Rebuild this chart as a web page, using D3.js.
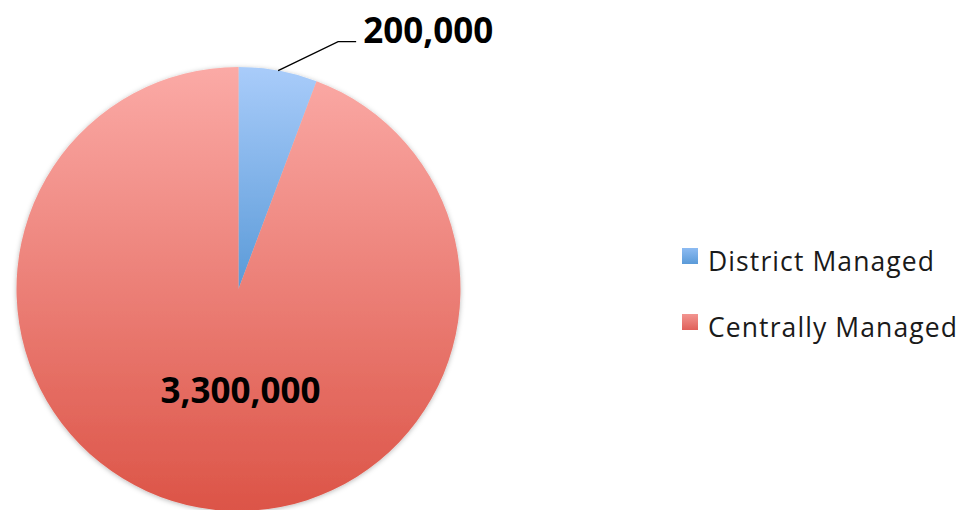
<!DOCTYPE html>
<html><head><meta charset="utf-8">
<script src="https://cdn.jsdelivr.net/npm/d3@7/dist/d3.min.js"></script>
<style>html,body{margin:0;padding:0;background:#fff;overflow:hidden}</style>
</head><body>
<svg id="chart" width="970" height="510"></svg>
<script>
const categories = ["District Managed", "Centrally Managed"];
const values = [200000, 3300000];
const labels = values.map(d3.format(","));

const W = 970, H = 510;
const cx = 238.5, cy = 289, R = 222;
const FONT = "'Open Sans', sans-serif";

const svg = d3.select("#chart");
const defs = svg.append("defs");

// gradient coordinates are local to the translated pie group
const grads = [
  {id: "gBlue", top: "#A9CCFA", bot: "#5A9AD8", y1: -R, y2: 0},
  {id: "gRed", top: "#FBAAA6", bot: "#DC5447", y1: -R, y2: R}
];
grads.forEach(g => {
  const lg = defs.append("linearGradient").attr("id", g.id)
    .attr("gradientUnits", "userSpaceOnUse")
    .attr("x1", 0).attr("x2", 0).attr("y1", g.y1).attr("y2", g.y2);
  lg.append("stop").attr("offset", "0%").attr("stop-color", g.top);
  lg.append("stop").attr("offset", "100%").attr("stop-color", g.bot);
});
const lgBlue = defs.append("linearGradient").attr("id", "lgBlue").attr("x1",0).attr("x2",0).attr("y1",0).attr("y2",1);
lgBlue.append("stop").attr("offset","0%").attr("stop-color","#8DBBF2");
lgBlue.append("stop").attr("offset","100%").attr("stop-color","#5A9AD8");
const lgRed = defs.append("linearGradient").attr("id", "lgRed").attr("x1",0).attr("x2",0).attr("y1",0).attr("y2",1);
lgRed.append("stop").attr("offset","0%").attr("stop-color","#F29590");
lgRed.append("stop").attr("offset","100%").attr("stop-color","#E0605A");

const f = defs.append("filter").attr("id", "shadow")
  .attr("x", "-10%").attr("y", "-10%").attr("width", "120%").attr("height", "120%");
f.append("feDropShadow").attr("dx", 0).attr("dy", 1).attr("stdDeviation", 2.5)
  .attr("flood-color", "#000").attr("flood-opacity", 0.28);

const fills = ["url(#gBlue)", "url(#gRed)"];
const legendFills = ["url(#lgBlue)", "url(#lgRed)"];

const pie = d3.pie().sort(null).value(d => d)(values);
const arc = d3.arc().innerRadius(0).outerRadius(R);

const g = svg.append("g").attr("transform", `translate(${cx},${cy})`);
g.append("g").attr("filter", "url(#shadow)")
  .selectAll("path").data(pie).join("path")
  .attr("d", arc)
  .attr("fill", (d, i) => fills[i]);

// Leader line and label for small slice
const s = pie[0];
const mid = (s.startAngle + s.endAngle) / 2;
const p0 = [R * Math.sin(mid), -R * Math.cos(mid)];
const p1 = [p0[0] + 60, p0[1] - 29];
const p2 = [p1[0] + 18, p1[1]];
g.append("polyline")
  .attr("points", [p0, p1, p2].map(p => p.join(",")).join(" "))
  .attr("fill", "none").attr("stroke", "#000").attr("stroke-width", 1.3);
g.append("text")
  .attr("x", p2[0] + 7).attr("y", p2[1] + 1)
  .attr("font-family", FONT).attr("font-weight", 700).attr("font-size", 35)
  .attr("fill", "#000").text(labels[0]);

// Label inside large slice
g.append("text")
  .attr("x", 2).attr("y", 114)
  .attr("text-anchor", "middle")
  .attr("font-family", FONT).attr("font-weight", 700).attr("font-size", 35)
  .attr("fill", "#000").text(labels[1]);

// Legend
const leg = svg.append("g").attr("transform", "translate(682,0)");
const items = leg.selectAll("g").data(categories).join("g")
  .attr("transform", (d, i) => `translate(0,${262 + i * 66})`);
items.append("rect").attr("x", 0).attr("y", -14).attr("width", 16).attr("height", 16)
  .attr("fill", (d, i) => legendFills[i]);
items.append("text").attr("x", 26).attr("y", 9)
  .attr("font-family", FONT).attr("font-size", 26.5).attr("letter-spacing", 1.1)
  .attr("fill", "#1a1a1a")
  .text(d => d);
</script>
</body></html>
